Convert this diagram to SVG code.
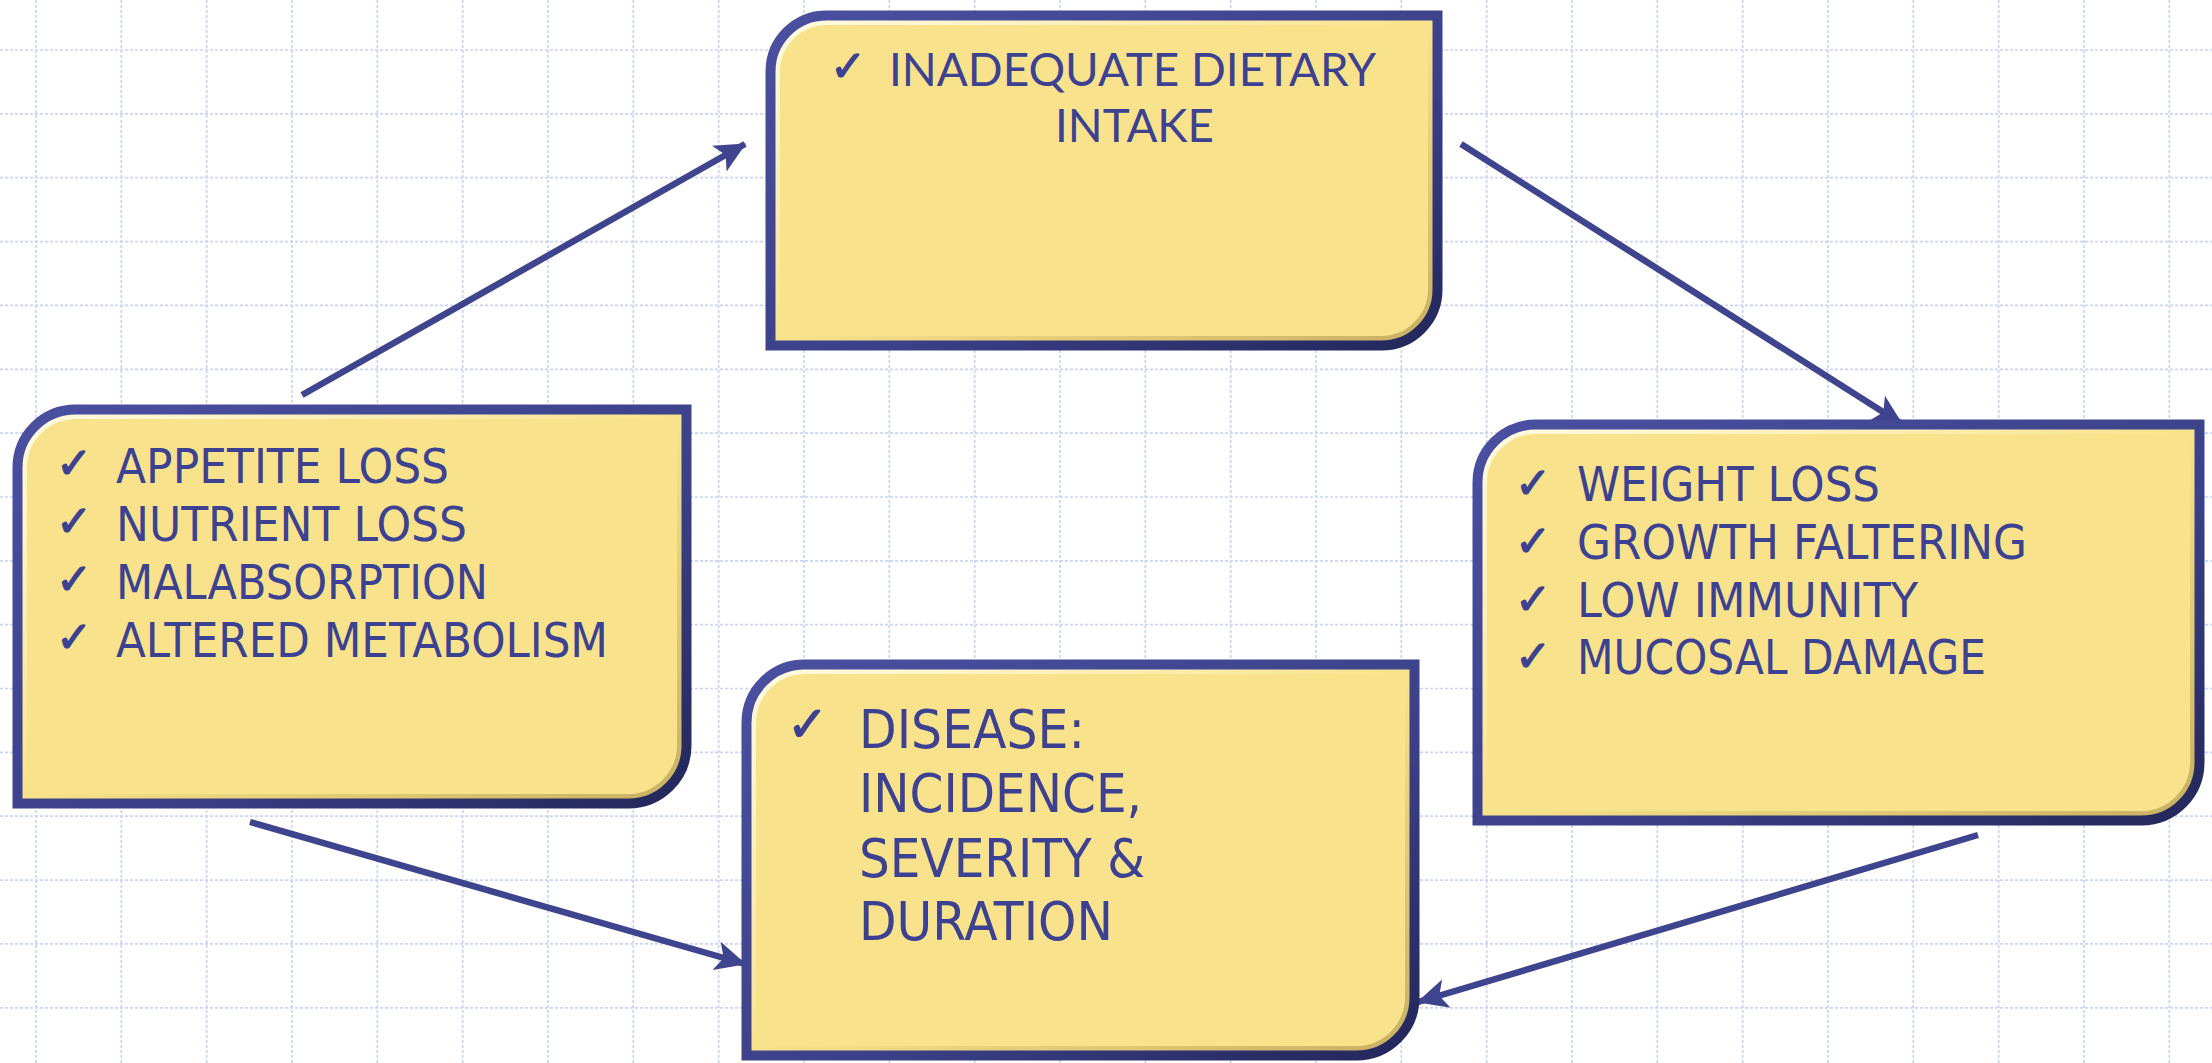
<svg xmlns="http://www.w3.org/2000/svg" width="2212" height="1063" viewBox="0 0 2212 1063">
<style>
.grid{stroke:#c9d5f7;stroke-width:1.7;stroke-dasharray:3 2;fill:none}
.conn{stroke:#3f448e;stroke-width:6.5;fill:none;marker-end:url(#ah)}
.fill{fill:#f8e38c}
.hl{fill:none;stroke:url(#hlg);stroke-width:6}
.edge{fill:none;stroke:url(#edg);stroke-width:10}
.t{fill:#3c4291;font-family:"DejaVu Sans",Tahoma,sans-serif;font-size:48px}
.tb{font-size:54px}
.tg{fill:#3c4291;font-family:Lato,"Open Sans",sans-serif;font-size:47px}
.ck{fill:#3c4291;stroke:#3c4291;stroke-width:1.3;font-family:"DejaVu Sans",sans-serif;font-size:43px}
</style>
<defs>
<linearGradient id="hlg" x1="0" y1="0" x2="1" y2="1">
<stop offset="0" stop-color="#fffbe2"/>
<stop offset="0.5" stop-color="#f8e38c"/>
<stop offset="1" stop-color="#c9b062"/>
</linearGradient>
<linearGradient id="edg" x1="0" y1="0" x2="1" y2="1">
<stop offset="0" stop-color="#4a50a0"/>
<stop offset="0.6" stop-color="#3b4088"/>
<stop offset="1" stop-color="#23275a"/>
</linearGradient>
<marker id="ah" markerUnits="userSpaceOnUse" markerWidth="32" markerHeight="32" viewBox="0 0 26 26" refX="24" refY="13" orient="auto">
<path d="M0,1 L25,13 L0,25 L6,13 Z" fill="#3f448e"/>
</marker>
</defs>
<rect width="2212" height="1063" fill="#ffffff"/>
<g id="grid" class="grid">
<path d="M36,0V1063M121.3,0V1063M206.7,0V1063M292,0V1063M377.3,0V1063M462.7,0V1063M548,0V1063M633.3,0V1063M718.7,0V1063M804,0V1063M889.3,0V1063M974.7,0V1063M1060,0V1063M1145.3,0V1063M1230.7,0V1063M1316,0V1063M1401.3,0V1063M1486.7,0V1063M1572,0V1063M1657.3,0V1063M1742.7,0V1063M1828,0V1063M1913.3,0V1063M1998.7,0V1063M2084,0V1063M2169.3,0V1063"/>
<path d="M0,50H2212M0,113.9H2212M0,177.7H2212M0,241.6H2212M0,305.4H2212M0,369.3H2212M0,433.1H2212M0,497H2212M0,560.8H2212M0,624.7H2212M0,688.5H2212M0,752.4H2212M0,816.2H2212M0,880.1H2212M0,943.9H2212M0,1007.8H2212"/>
</g>
<g id="connectors">
<line class="conn" x1="302" y1="395" x2="745" y2="144"/>
<line class="conn" x1="1461" y1="144" x2="1902" y2="424"/>
<line class="conn" x1="250" y1="822" x2="745" y2="964"/>
<line class="conn" x1="1978" y1="835" x2="1418" y2="1002"/>
</g>
<g id="node-intake">
<path class="fill" d="M826.5,15.5 H1437.5 V289.5 A56,56 0 0 1 1381.5,345.5 H770.5 V71.5 A56,56 0 0 1 826.5,15.5 Z"/>
<path class="hl" d="M827,22 H1431 V289 A50,50 0 0 1 1381,339 H777 V72 A50,50 0 0 1 827,22 Z"/>
<path class="edge" d="M826.5,15.5 H1437.5 V289.5 A56,56 0 0 1 1381.5,345.5 H770.5 V71.5 A56,56 0 0 1 826.5,15.5 Z"/>
<text class="ck" x="830" y="81">✓</text>
<text class="tg" x="889" y="86" textLength="487" lengthAdjust="spacingAndGlyphs">INADEQUATE DIETARY</text>
<text class="tg" x="1055" y="142" textLength="159" lengthAdjust="spacingAndGlyphs">INTAKE</text>
</g>
<g id="node-causes">
<path class="fill" d="M75.5,409.5 H686.5 V745.5 A58,58 0 0 1 628.5,803.5 H17.5 V467.5 A58,58 0 0 1 75.5,409.5 Z"/>
<path class="hl" d="M76,416 H680 V745 A52,52 0 0 1 628,797 H24 V468 A52,52 0 0 1 76,416 Z"/>
<path class="edge" d="M75.5,409.5 H686.5 V745.5 A58,58 0 0 1 628.5,803.5 H17.5 V467.5 A58,58 0 0 1 75.5,409.5 Z"/>
<text class="ck" x="56" y="478">✓</text>
<text class="ck" x="56" y="536">✓</text>
<text class="ck" x="56" y="594">✓</text>
<text class="ck" x="56" y="652">✓</text>
<text class="t" x="116" y="483" textLength="333" lengthAdjust="spacingAndGlyphs">APPETITE LOSS</text>
<text class="t" x="116" y="541" textLength="351" lengthAdjust="spacingAndGlyphs">NUTRIENT LOSS</text>
<text class="t" x="116" y="599" textLength="372" lengthAdjust="spacingAndGlyphs">MALABSORPTION</text>
<text class="t" x="116" y="657" textLength="492" lengthAdjust="spacingAndGlyphs">ALTERED METABOLISM</text>
</g>
<g id="node-effects">
<path class="fill" d="M1535.5,424.5 H2199.5 V762.5 A58,58 0 0 1 2141.5,820.5 H1477.5 V482.5 A58,58 0 0 1 1535.5,424.5 Z"/>
<path class="hl" d="M1536,431 H2193 V762 A52,52 0 0 1 2141,814 H1484 V483 A52,52 0 0 1 1536,431 Z"/>
<path class="edge" d="M1535.5,424.5 H2199.5 V762.5 A58,58 0 0 1 2141.5,820.5 H1477.5 V482.5 A58,58 0 0 1 1535.5,424.5 Z"/>
<text class="ck" x="1515" y="498">✓</text>
<text class="ck" x="1515" y="556">✓</text>
<text class="ck" x="1515" y="614">✓</text>
<text class="ck" x="1515" y="671">✓</text>
<text class="t" x="1577" y="501" textLength="303" lengthAdjust="spacingAndGlyphs">WEIGHT LOSS</text>
<text class="t" x="1577" y="559" textLength="450" lengthAdjust="spacingAndGlyphs">GROWTH FALTERING</text>
<text class="t" x="1577" y="617" textLength="341" lengthAdjust="spacingAndGlyphs">LOW IMMUNITY</text>
<text class="t" x="1577" y="674" textLength="409" lengthAdjust="spacingAndGlyphs">MUCOSAL DAMAGE</text>
</g>
<g id="node-disease">
<path class="fill" d="M804.5,664.5 H1414.5 V997.5 A58,58 0 0 1 1356.5,1055.5 H746.5 V722.5 A58,58 0 0 1 804.5,664.5 Z"/>
<path class="hl" d="M805,671 H1408 V997 A52,52 0 0 1 1356,1049 H753 V723 A52,52 0 0 1 805,671 Z"/>
<path class="edge" d="M804.5,664.5 H1414.5 V997.5 A58,58 0 0 1 1356.5,1055.5 H746.5 V722.5 A58,58 0 0 1 804.5,664.5 Z"/>
<text class="ck" x="787" y="741" style="font-size:49px">✓</text>
<text class="t tb" x="859" y="748" textLength="226" lengthAdjust="spacingAndGlyphs">DISEASE:</text>
<text class="t tb" x="859" y="812" textLength="283" lengthAdjust="spacingAndGlyphs">INCIDENCE,</text>
<text class="t tb" x="859" y="877" textLength="286" lengthAdjust="spacingAndGlyphs">SEVERITY &amp;</text>
<text class="t tb" x="859" y="940" textLength="254" lengthAdjust="spacingAndGlyphs">DURATION</text>
</g>
</svg>
